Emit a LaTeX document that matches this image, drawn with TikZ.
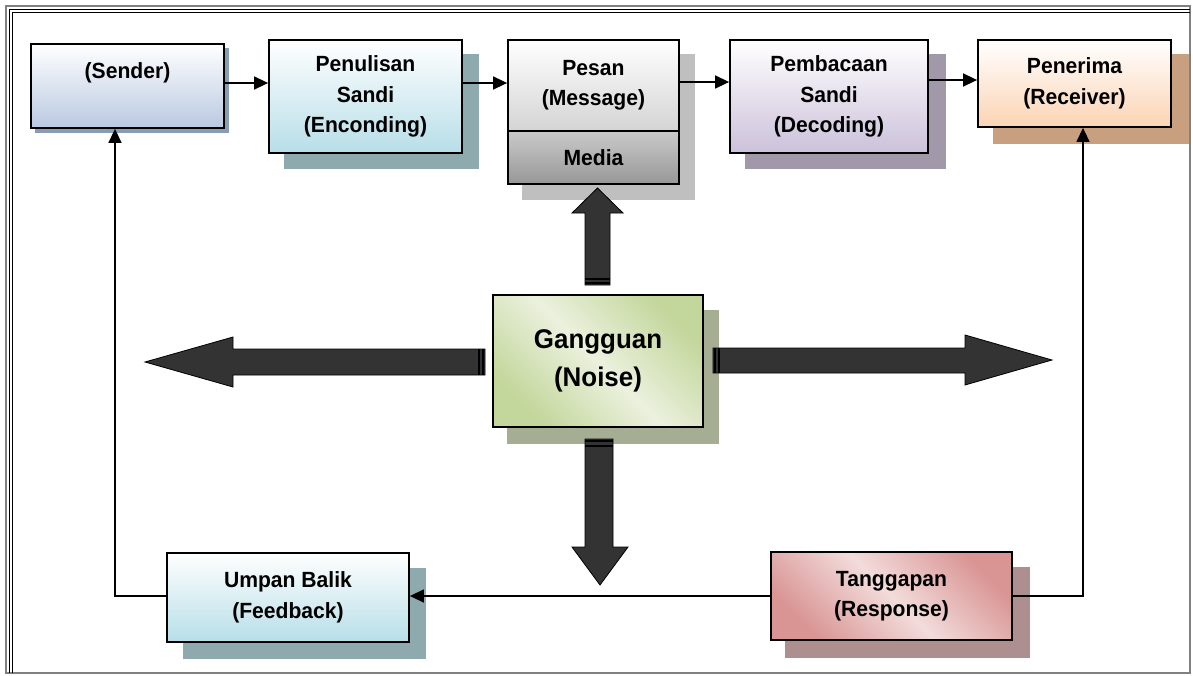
\documentclass[tikz,border=0pt]{standalone}
\usepackage{fontspec}
\setmainfont{Liberation Sans}[FakeStretch=0.96]
\usetikzlibrary{arrows.meta,calc}
\definecolor{shSender}{HTML}{8A9BB6}
\definecolor{shTeal}{HTML}{8FAAAE}
\definecolor{shGrey}{HTML}{BFBFBF}
\definecolor{shPurple}{HTML}{A199A9}
\definecolor{shTan}{HTML}{C9A07F}
\definecolor{shOlive}{HTML}{A5AE92}
\definecolor{shRose}{HTML}{AE8F8F}
\definecolor{cSender}{HTML}{B9C8E1}
\definecolor{cTeal}{HTML}{B7DEE8}
\definecolor{cLightGrey}{HTML}{D4D4D4}
\definecolor{cMediaTop}{HTML}{CACACA}
\definecolor{cMediaBot}{HTML}{979797}
\definecolor{cPurple}{HTML}{CCC1DA}
\definecolor{cPeach}{HTML}{FBD4B4}
\definecolor{cGreenD}{HTML}{C3D69B}
\definecolor{cGreenL}{HTML}{EBF1DE}
\definecolor{cRoseD}{HTML}{D99594}
\definecolor{cRoseL}{HTML}{F2DCDB}
\definecolor{arrowgray}{HTML}{333333}
\definecolor{frameGrey}{HTML}{808080}
\tikzset{
  boxbase/.style={draw=black, line width=1.8pt, rectangle, inner sep=0pt, align=center,
    font=\bfseries\fontsize{22}{30.5}\selectfont},
  conn/.style={line width=1.5pt, -{Triangle[length=14pt,width=13pt]}},
  blockarrow/.style={fill=arrowgray, draw=black, line width=0.8pt},
  band/.style={draw=black, line width=1.2pt}
}
\begin{document}
\begin{tikzpicture}[x=1pt,y=-1pt]
\useasboundingbox (0,0) rectangle (1193,675);
% frame
\draw[frameGrey, line width=2pt] (6,6) rectangle (1190,673);
\draw[black, line width=1.2pt] (9.5,673) -- (9.5,9.5) -- (1190,9.5);
\draw[black, line width=1.2pt] (12.5,673) -- (12.5,12.5) -- (1190,12.5);

% shadows
\fill[shSender] (35,48) rectangle (229,133);
\fill[shTeal] (284,54) rectangle (479,169);
\fill[shGrey] (522,54) rectangle (695,200);
\fill[shPurple] (745,54) rectangle (946,169);
\fill[shTan] (993,54) rectangle (1189,144);
\fill[shOlive] (507,310) rectangle (719,444);
\fill[shTeal] (183,568) rectangle (426,659);
\fill[shRose] (785,567) rectangle (1030,658);

% boxes
\node[boxbase, top color=white, bottom color=cSender, minimum width=193pt, minimum height=84pt]
  (sender) at (127.5,86) {(Sender)\\ \phantom{X}};
\node[boxbase, top color=white, bottom color=cTeal, minimum width=193pt, minimum height=113pt]
  (pen) at (365.5,96.5) {Penulisan\\Sandi\\(Enconding)};
\node[boxbase, top color=white, bottom color=cLightGrey, minimum width=171pt, minimum height=91pt]
  (pesan) at (593.5,85.5) {Pesan\\(Message)};
\node[boxbase, top color=cMediaTop, bottom color=cMediaBot, minimum width=171pt, minimum height=53pt]
  (media) at (593.5,157.5) {Media};
\node[boxbase, top color=white, bottom color=cPurple, minimum width=198pt, minimum height=113pt]
  (pemb) at (829,96.5) {Pembacaan\\Sandi\\(Decoding)};
\node[boxbase, top color=white, bottom color=cPeach, minimum width=193pt, minimum height=87pt]
  (pener) at (1074.5,83.5) {Penerima\\(Receiver)};
\node[boxbase, top color=cGreenD, bottom color=cGreenD, middle color=cGreenL, shading angle=-45,
  minimum width=210pt, minimum height=132pt, font=\bfseries\fontsize{27}{38}\selectfont]
  (noise) at (598,361) {Gangguan\\(Noise)};
\node[boxbase, top color=white, bottom color=cTeal, minimum width=242pt, minimum height=89pt]
  (umpan) at (288,597.5) {Umpan Balik\\(Feedback)};
\node[boxbase, top color=cRoseD, bottom color=cRoseD, middle color=cRoseL, shading angle=-45,
  minimum width=241pt, minimum height=88pt]
  (tang) at (891.5,596) {Tanggapan\\(Response)};

% connectors (top row)
\coordinate (rowA) at (0,83);
\coordinate (rowB) at (0,82);
\coordinate (rowC) at (0,80);
\draw[conn] (sender.east |- rowA) -- (pen.west |- rowA);
\draw[conn] (pen.east |- rowA) -- (pesan.west |- rowA);
\draw[conn] (pesan.east |- rowB) -- (pemb.west |- rowB);
\draw[conn] (pemb.east |- rowC) -- (pener.west |- rowC);

% feedback loop
\coordinate (fbx) at (115,0);
\coordinate (rcx) at (1083,0);
\draw[conn] (tang.west) -- (tang.west -| umpan.east);
\draw[conn] (umpan.west |- tang.west) -| (fbx |- sender.south);
\draw[conn] (tang.east) -| (rcx |- pener.south);

% block arrows
% up
\draw[blockarrow] (585,285) -- (585,213) -- (572,213) -- (597.5,188) -- (623,213) -- (610,213) -- (610,285) -- cycle;
\draw[band] (585,279) -- (610,279);
\draw[band] (585,283) -- (610,283);
% down
\draw[blockarrow] (585,439) -- (585,547) -- (572,547) -- (600,585) -- (628,547) -- (613,547) -- (613,439) -- cycle;
\draw[band] (585,441) -- (613,441);
\draw[band] (585,446) -- (613,446);
% left
\draw[blockarrow] (485,349) -- (233,349) -- (233,337) -- (145,362) -- (233,387) -- (233,375) -- (485,375) -- cycle;
\draw[band] (479,349) -- (479,375);
\draw[band] (483,349) -- (483,375);
% right
\draw[blockarrow] (713,348) -- (965,348) -- (965,335) -- (1052,360) -- (965,385) -- (965,373) -- (713,373) -- cycle;
\draw[band] (715,348) -- (715,373);
\draw[band] (719,348) -- (719,373);
\end{tikzpicture}
\end{document}
